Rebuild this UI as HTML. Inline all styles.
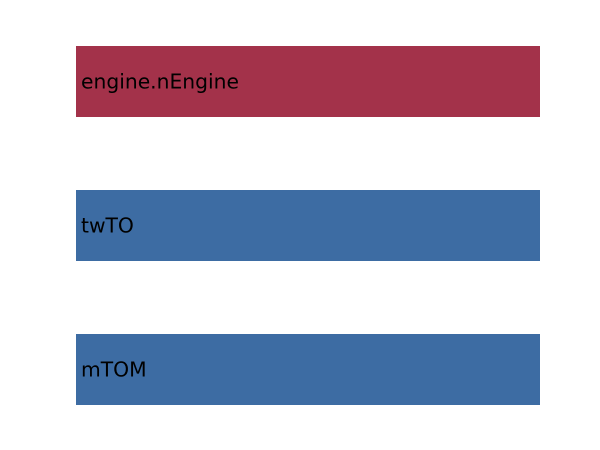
<!DOCTYPE html>
<html><head><meta charset="utf-8"><style>
html,body{margin:0;padding:0;background:#fff;width:600px;height:450px;overflow:hidden}
</style></head><body>
<svg id="chart" width="600" height="450" xmlns="http://www.w3.org/2000/svg"></svg>
<script>
const categories = ["engine.nEngine", "twTO", "mTOM"];
const values = [1, 1, 1];
const highlight = [true, false, false];

const svg = document.getElementById('chart');
const NS = 'http://www.w3.org/2000/svg';
const x0 = 76, x1 = 540, topY = 46, bandStep = 144, barH = 71;
const maxV = Math.max(...values);
function xScale(v){ return x0 + (v / maxV) * (x1 - x0); }
function yScale(i){ return topY + i * bandStep; }

categories.forEach((c, i) => {
  const r = document.createElementNS(NS, 'rect');
  
  
  r.setAttribute('x', xScale(0));
  r.setAttribute('y', yScale(i));
  r.setAttribute('width', xScale(values[i]) - xScale(0));
  r.setAttribute('height', barH);
  r.setAttribute('fill', highlight[i] ? '#a3324a' : '#3d6ca3');
  svg.appendChild(r);
  const t = document.createElementNS(NS, 'text');
  
  
  t.setAttribute('x', xScale(0) + 5);
  t.setAttribute('y', yScale(i) + barH / 2 + 7);
  t.setAttribute('font-family', 'DejaVu Sans, Liberation Sans, sans-serif');
  t.setAttribute('font-size', '20.3');
  t.setAttribute('fill', '#000');
  t.textContent = c;
  svg.appendChild(t);
});
</script>
</body></html>
